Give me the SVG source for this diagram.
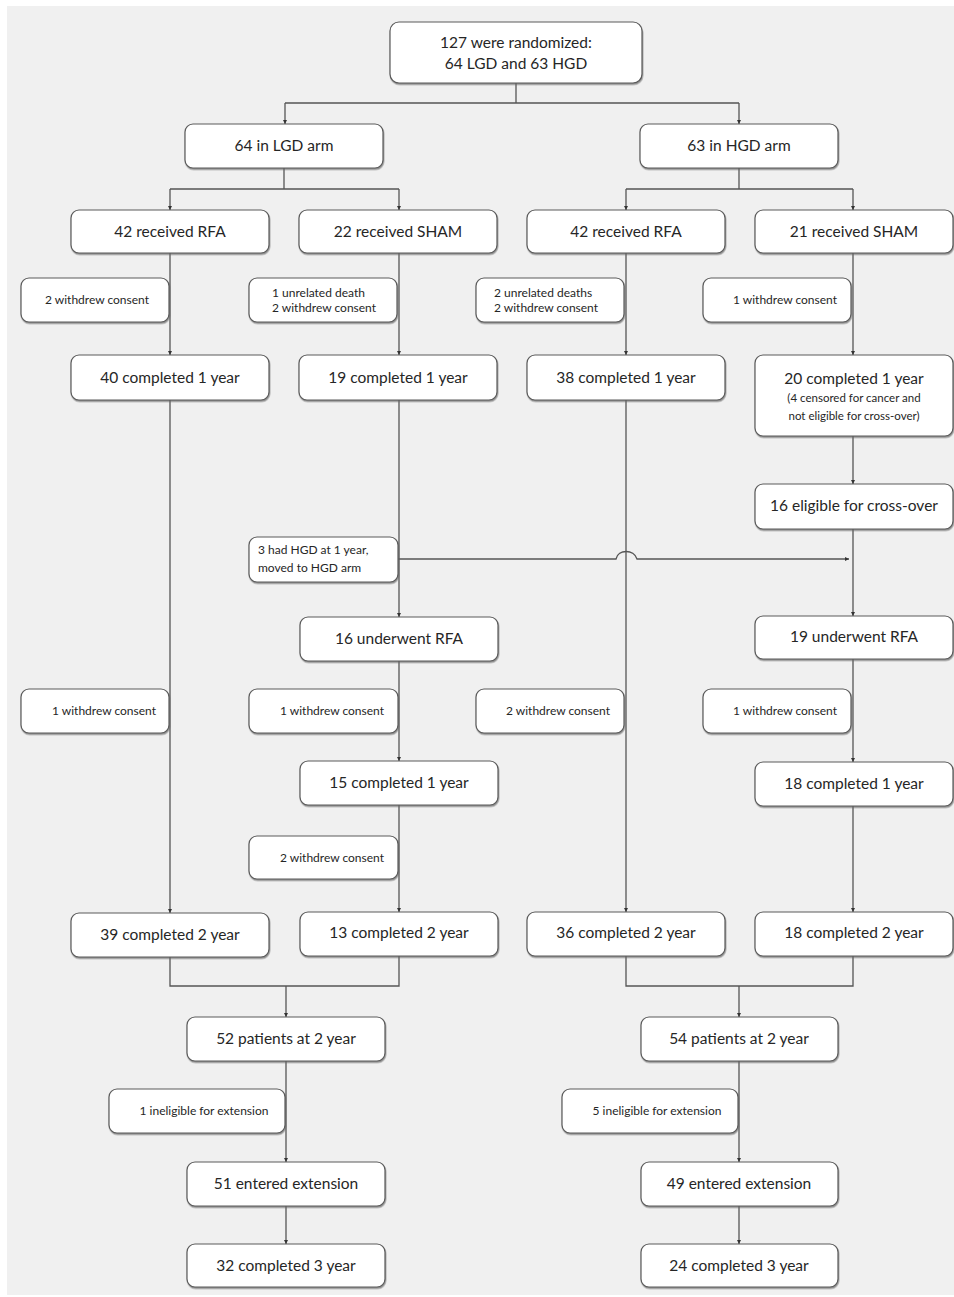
<svg xmlns="http://www.w3.org/2000/svg" width="954" height="1297" viewBox="0 0 954 1297">
<style>
.bg{fill:#f0f0f0}
.b{fill:#fff;stroke:#5a5a5a;stroke-width:1.2;filter:url(#sh)}
.t{font-family:Lato,"Open Sans","Liberation Sans",sans-serif;font-size:15.5px;fill:#262626;text-anchor:middle}
.s{font-family:Lato,"Open Sans","Liberation Sans",sans-serif;font-size:12px;fill:#262626;text-anchor:middle}
.l{text-anchor:start}
.c path{fill:none;stroke:#555;stroke-width:1.3}
.a{marker-end:url(#ar)}
</style>
<defs>
<filter id="sh" x="-5%" y="-10%" width="110%" height="130%">
<feDropShadow dx="0.6" dy="1.5" stdDeviation="0.6" flood-color="#666" flood-opacity="0.7"/>
</filter>
<marker id="ar" markerUnits="userSpaceOnUse" markerWidth="5" markerHeight="5" refX="4" refY="2" orient="auto">
<path d="M0,0 L4,2 L0,4 z" fill="#333"/>
</marker>
</defs>
<rect x="0" y="0" width="954" height="1297" fill="#fff"/>
<rect class="bg" x="7" y="6" width="947" height="1289"/>

<g class="c" id="connectors">
<path d="M516,83 V103"/>
<path d="M285,103 H739"/>
<path class="a" d="M285,103 V124"/>
<path class="a" d="M739,103 V124"/>
<path d="M284,168 V189"/>
<path d="M170,189 H399"/>
<path class="a" d="M170,189 V210"/>
<path class="a" d="M399,189 V210"/>
<path d="M739,168 V189"/>
<path d="M626,189 H853"/>
<path class="a" d="M626,189 V210"/>
<path class="a" d="M853,189 V210"/>
<path class="a" d="M170,253 V355"/>
<path class="a" d="M399,253 V355"/>
<path class="a" d="M626,253 V355"/>
<path class="a" d="M853,253 V355"/>
<path class="a" d="M170,400 V913"/>
<path class="a" d="M399,400 V617"/>
<path class="a" d="M626,400 V912"/>
<path class="a" d="M853,436 V484"/>
<path class="a" d="M853,529 V616"/>
<path class="a" d="M398,559 H616 C618,549 634,549 637,559 H849"/>
<path class="a" d="M399,661 V761"/>
<path class="a" d="M399,805 V912"/>
<path class="a" d="M853,659 V762"/>
<path class="a" d="M853,806 V912"/>
<path d="M170,957 V986 H399 V956"/>
<path class="a" d="M286,986 V1017"/>
<path d="M626,956 V986 H853 V956"/>
<path class="a" d="M739,986 V1017"/>
<path class="a" d="M286,1061 V1162"/>
<path class="a" d="M286,1206 V1244"/>
<path class="a" d="M739,1061 V1162"/>
<path class="a" d="M739,1206 V1244"/>
</g>

<g id="n_top"><rect class="b" x="390" y="22" width="252" height="61" rx="9"/>
<text class="t" x="516" y="48">127 were randomized:</text>
<text class="t" x="516" y="69">64 LGD and 63 HGD</text></g>

<g id="n_lgd"><rect class="b" x="185" y="124" width="198" height="44" rx="8"/><text class="t" x="284" y="151">64 in LGD arm</text></g>
<g id="n_hgd"><rect class="b" x="640" y="124" width="198" height="44" rx="8"/><text class="t" x="739" y="151">63 in HGD arm</text></g>

<g id="n_l_rfa"><rect class="b" x="71" y="210" width="198" height="43" rx="8"/><text class="t" x="170" y="237">42 received RFA</text></g>
<g id="n_l_sham"><rect class="b" x="299" y="210" width="198" height="43" rx="8"/><text class="t" x="398" y="237">22 received SHAM</text></g>
<g id="n_h_rfa"><rect class="b" x="527" y="210" width="198" height="43" rx="8"/><text class="t" x="626" y="237">42 received RFA</text></g>
<g id="n_h_sham"><rect class="b" x="755" y="210" width="198" height="43" rx="8"/><text class="t" x="854" y="237">21 received SHAM</text></g>

<g id="w1"><rect class="b" x="21" y="278" width="148" height="44" rx="8"/><text class="s" x="97" y="304">2 withdrew consent</text></g>
<g id="w2"><rect class="b" x="249" y="278" width="148" height="44" rx="8"/><text class="s l" x="272" y="297">1 unrelated death</text><text class="s l" x="272" y="312">2 withdrew consent</text></g>
<g id="w3"><rect class="b" x="476" y="278" width="148" height="44" rx="8"/><text class="s l" x="494" y="297">2 unrelated deaths</text><text class="s l" x="494" y="312">2 withdrew consent</text></g>
<g id="w4"><rect class="b" x="703" y="278" width="148" height="44" rx="8"/><text class="s" x="785" y="304">1 withdrew consent</text></g>

<g id="y1a"><rect class="b" x="71" y="355" width="198" height="45" rx="8"/><text class="t" x="170" y="383">40 completed 1 year</text></g>
<g id="y1b"><rect class="b" x="299" y="355" width="198" height="45" rx="8"/><text class="t" x="398" y="383">19 completed 1 year</text></g>
<g id="y1c"><rect class="b" x="527" y="355" width="198" height="45" rx="8"/><text class="t" x="626" y="383">38 completed 1 year</text></g>
<g id="y1d"><rect class="b" x="755" y="355" width="198" height="81" rx="8"/><text class="t" x="854" y="384">20 completed 1 year</text>
<text class="s" x="854" y="402" style="font-size:11.5px">(4 censored for cancer and</text>
<text class="s" x="854" y="420" style="font-size:11.5px">not eligible for cross-over)</text></g>

<g id="elig"><rect class="b" x="755" y="484" width="198" height="45" rx="8"/><text class="t" x="854" y="511">16 eligible for cross-over</text></g>

<g id="hgd3"><rect class="b" x="249" y="537" width="149" height="45" rx="8"/><text class="s l" x="258" y="554">3 had HGD at 1 year,</text><text class="s l" x="258" y="572">moved to HGD arm</text></g>

<g id="u16"><rect class="b" x="300" y="617" width="198" height="44" rx="8"/><text class="t" x="399" y="644">16 underwent RFA</text></g>
<g id="u19"><rect class="b" x="755" y="616" width="198" height="43" rx="8"/><text class="t" x="854" y="642">19 underwent RFA</text></g>

<g id="w5"><rect class="b" x="21" y="689" width="148" height="44" rx="8"/><text class="s" x="104" y="715">1 withdrew consent</text></g>
<g id="w6"><rect class="b" x="249" y="689" width="149" height="44" rx="8"/><text class="s" x="332" y="715">1 withdrew consent</text></g>
<g id="w7"><rect class="b" x="476" y="689" width="148" height="44" rx="8"/><text class="s" x="558" y="715">2 withdrew consent</text></g>
<g id="w8"><rect class="b" x="703" y="689" width="148" height="44" rx="8"/><text class="s" x="785" y="715">1 withdrew consent</text></g>

<g id="c15"><rect class="b" x="300" y="761" width="198" height="44" rx="8"/><text class="t" x="399" y="788">15 completed 1 year</text></g>
<g id="c18a"><rect class="b" x="755" y="762" width="198" height="44" rx="8"/><text class="t" x="854" y="789">18 completed 1 year</text></g>

<g id="w9"><rect class="b" x="249" y="836" width="149" height="43" rx="8"/><text class="s" x="332" y="862">2 withdrew consent</text></g>

<g id="y2a"><rect class="b" x="71" y="913" width="198" height="44" rx="8"/><text class="t" x="170" y="940">39 completed 2 year</text></g>
<g id="y2b"><rect class="b" x="300" y="912" width="198" height="44" rx="8"/><text class="t" x="399" y="938">13 completed 2 year</text></g>
<g id="y2c"><rect class="b" x="527" y="912" width="198" height="44" rx="8"/><text class="t" x="626" y="938">36 completed 2 year</text></g>
<g id="y2d"><rect class="b" x="755" y="912" width="198" height="44" rx="8"/><text class="t" x="854" y="938">18 completed 2 year</text></g>

<g id="p52"><rect class="b" x="187" y="1017" width="198" height="44" rx="8"/><text class="t" x="286" y="1044">52 patients at 2 year</text></g>
<g id="p54"><rect class="b" x="641" y="1017" width="197" height="44" rx="8"/><text class="t" x="739" y="1044">54 patients at 2 year</text></g>

<g id="i1"><rect class="b" x="109" y="1089" width="176" height="44" rx="8"/><text class="s" x="204" y="1115">1 ineligible for extension</text></g>
<g id="i5"><rect class="b" x="562" y="1089" width="176" height="44" rx="8"/><text class="s" x="657" y="1115">5 ineligible for extension</text></g>

<g id="e51"><rect class="b" x="187" y="1162" width="198" height="44" rx="8"/><text class="t" x="286" y="1189">51 entered extension</text></g>
<g id="e49"><rect class="b" x="641" y="1162" width="197" height="44" rx="8"/><text class="t" x="739" y="1189">49 entered extension</text></g>

<g id="f32"><rect class="b" x="187" y="1244" width="198" height="43" rx="8"/><text class="t" x="286" y="1271">32 completed 3 year</text></g>
<g id="f24"><rect class="b" x="641" y="1244" width="197" height="43" rx="8"/><text class="t" x="739" y="1271">24 completed 3 year</text></g>
</svg>
